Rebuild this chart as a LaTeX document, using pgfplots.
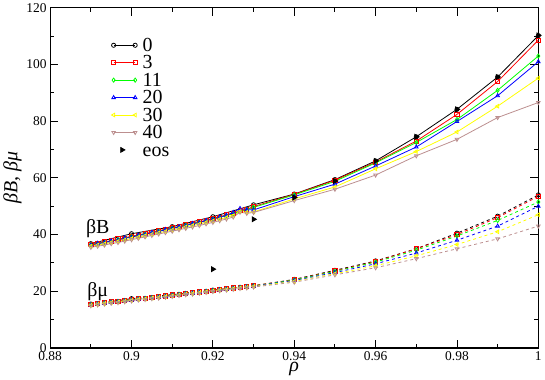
\documentclass[border=0pt]{standalone}
\usepackage{pgfplots}
\pgfplotsset{compat=1.18}
\usepackage{pgfplotstable}
\usepackage{fontspec}
\setmainfont{Liberation Serif}

\definecolor{grn}{RGB}{0,255,0}
\definecolor{ylw}{RGB}{255,255,0}
\definecolor{brn}{RGB}{188,143,143}

% columns: B = beta B, m = beta mu, one pair per value of the parameter
\pgfplotstableread{
rho     B3    B11   B20   B30   B40   m3    m11   m20   m30   m40
0.89000 36.6  36.4  36.3  35.9  35.5  15.4  15.3  15.2  15.1  14.9
0.89167 36.9  36.8  36.9  36.3  35.9  15.7  15.6  15.5  15.4  15.2
0.89333 37.5  37.2  37.1  36.7  36.3  16.0  15.9  15.8  15.7  15.5
0.89500 37.8  37.7  37.8  37.2  36.8  16.3  16.2  16.1  16.0  15.8
0.89667 38.5  38.2  38.0  37.6  37.2  16.5  16.4  16.3  16.2  16.0
0.89833 38.8  38.7  38.8  38.1  37.7  16.8  16.7  16.6  16.5  16.3
0.90000 39.5  39.2  39.0  38.6  38.2  17.1  17.0  16.9  16.8  16.6
0.90167 39.8  39.7  39.8  39.1  38.7  17.4  17.3  17.2  17.1  16.9
0.90333 40.5  40.2  40.0  39.6  39.2  17.6  17.5  17.4  17.3  17.1
0.90500 40.8  40.7  40.8  40.1  39.7  17.9  17.8  17.7  17.6  17.4
0.90667 41.5  41.2  41.0  40.6  40.2  18.1  18.0  17.9  17.8  17.6
0.90833 41.8  41.7  41.8  41.1  40.7  18.4  18.3  18.2  18.1  17.9
0.91000 42.5  42.2  42.0  41.6  41.2  18.7  18.6  18.5  18.4  18.2
0.91167 42.8  42.7  42.8  42.1  41.7  19.0  18.9  18.8  18.7  18.5
0.91333 43.6  43.3  43.1  42.7  42.2  19.3  19.2  19.1  19.0  18.8
0.91500 43.9  43.8  43.9  43.2  42.7  19.5  19.4  19.3  19.2  19.0
0.91667 44.6  44.3  44.2  43.7  43.2  19.8  19.7  19.6  19.5  19.3
0.91833 45.0  44.9  45.0  44.3  43.8  20.1  20.0  19.9  19.8  19.6
0.92000 45.8  45.5  45.4  44.8  44.3  20.4  20.3  20.2  20.1  19.9
0.92167 46.2  46.1  46.2  45.4  44.9  20.7  20.6  20.5  20.4  20.2
0.92333 47.0  46.7  46.8  46.0  45.5  20.9  20.8  20.7  20.6  20.4
0.92500 47.5  47.4  47.8  46.7  46.2  21.2  21.1  21.0  20.9  20.7
0.92667 48.5  48.2  49.2  48.2  47.9  21.5  21.4  21.3  21.2  21.0
0.92833 48.9  48.9  48.8  47.9  47.5  21.7  21.6  21.5  21.4  21.2
0.93000 49.9  49.6  48.7  48.0  47.8  22.0  21.9  21.8  21.7  21.5
0.94    54.2  54.0  53.4  52.6  52.0  24.1  24.0  23.8  23.5  23.2
0.95    59.2  58.8  57.8  56.8  56.0  27.2  27.0  26.6  26.2  25.8
0.96    65.6  65.3  64.2  63.2  61.0  30.5  30.3  29.7  29.0  28.3
0.97    73.0  72.5  70.9  69.3  67.8  35.0  34.5  33.5  32.5  31.5
0.98    82.4  80.6  79.9  76.2  73.6  40.0  39.5  38.0  36.5  35.0
0.99    94.0  90.9  89.0  85.3  81.3  46.0  45.0  43.0  41.0  38.5
1.00    108.6 103.0 101.0 95.2  86.6  53.5  51.5  50.0  47.0  43.0
}\runs

\pgfplotstableread{
rho   B     m
0.89  36.8  15.5
0.90  40.3  17.4
0.91  42.8  18.8
0.92  46.3  20.4
0.93  50.5  21.9
0.94  54.3  24.2
0.95  59.4  27.4
0.96  66.0  30.7
0.97  74.5  35.0
0.98  84.2  40.5
0.99  95.6  46.5
1.00  110.2 54.0
}\zero

\pgfplotstableread{
rho   val
0.92  27.8
0.93  45.4
0.94  53.1
0.95  58.9
0.96  66.0
0.97  74.5
0.98  84.2
0.99  95.6
1.00  110.3
}\eos

\begin{document}
\begin{tikzpicture}
\begin{axis}[
  scale only axis,
  width=488bp, height=340bp,
  xmin=0.88, xmax=1, ymin=0, ymax=120,
  xtick={0.88,0.9,0.92,0.94,0.96,0.98,1},
  xticklabels={0.88,0.9,0.92,0.94,0.96,0.98,1},
  ytick={0,20,40,60,80,100,120},
  minor tick num=1,
  tick align=inside,
  major tick length=8bp, minor tick length=4bp,
  tick style={line width=0.9pt, black},
  axis line style={line width=1.1pt},
  ticklabel style={font=\fontsize{13.5}{14}\selectfont},
  /pgf/number format/assume math mode=true,
  xlabel={\textit{ρ}},
  ylabel={\textit{βB, βμ}},
  label style={font=\fontsize{20}{20}\selectfont},
  xlabel style={yshift=5bp},
  ylabel style={yshift=-2bp},
  legend style={at={(axis cs:0.8943,110.3)}, anchor=north west, draw=none, fill=none,
    row sep=2pt, font=\fontsize{20}{20}\selectfont,
    /tikz/every odd column/.append style={column sep=4pt},
    nodes={font=\fontsize{20}{20}\selectfont, inner sep=1.5pt, text height=12.5pt, text depth=0pt}},
  legend cell align=left,
  every axis plot/.append style={line width=0.8pt, mark size=2.1pt},
  endmarks/.style={legend image code/.code={
    \draw[mark indices={1,3},##1] plot coordinates {(0cm,0cm) (0.38cm,0cm) (0.76cm,0cm)};}},
]
\addplot[black, mark=o, endmarks] table[x=rho,y=B] {\zero};
\addplot[red, mark=square, endmarks] table[x=rho,y=B3] {\runs};
\addplot[grn, mark=diamond, endmarks] table[x=rho,y=B11] {\runs};
\addplot[blue, mark=triangle, endmarks] table[x=rho,y=B20] {\runs};
\addplot[ylw, mark=triangle, mark options={rotate=90}, endmarks] table[x=rho,y=B30] {\runs};
\addplot[brn, mark=triangle, mark options={rotate=180}, endmarks] table[x=rho,y=B40] {\runs};
\addplot[black, only marks, mark=triangle*, mark size=2.8pt, mark options={rotate=-90}] table[x=rho,y=val] {\eos};
\legend{0,3,11,20,30,40,eos}

\addplot[black, dashed, mark=o, mark options={solid}, forget plot] table[x=rho,y=m] {\zero};
\addplot[red, dashed, mark=square, mark options={solid}, forget plot] table[x=rho,y=m3] {\runs};
\addplot[grn, dashed, mark=diamond, mark options={solid}, forget plot] table[x=rho,y=m11] {\runs};
\addplot[blue, dashed, mark=triangle, mark options={solid}, forget plot] table[x=rho,y=m20] {\runs};
\addplot[ylw, dashed, mark=triangle, mark options={solid,rotate=90}, forget plot] table[x=rho,y=m30] {\runs};
\addplot[brn, dashed, mark=triangle, mark options={solid,rotate=180}, forget plot] table[x=rho,y=m40] {\runs};

\node[font=\fontsize{20}{20}\selectfont] at (axis cs:0.8917,42) {βB};
\node[font=\fontsize{20}{20}\selectfont] at (axis cs:0.8917,20) {βμ};
\end{axis}
\end{tikzpicture}
\end{document}
